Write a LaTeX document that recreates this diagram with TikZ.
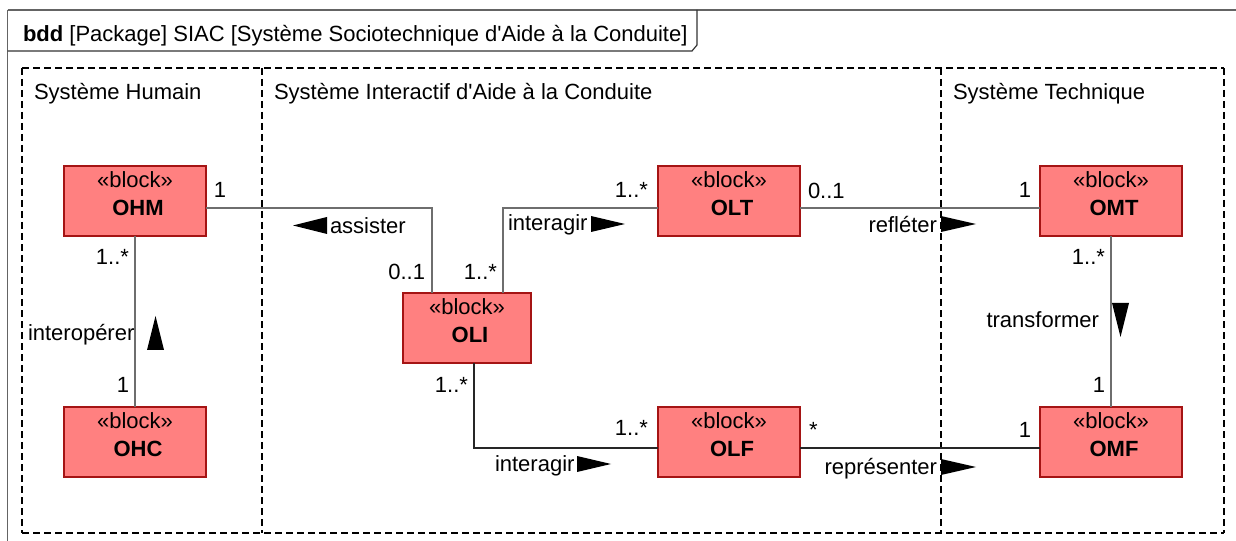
\documentclass[tikz,border=0pt]{standalone}
\usepackage{fontspec}
\setmainfont{Liberation Sans}[Ligatures=TeXOff]
\definecolor{blkfill}{RGB}{255,128,128}
\definecolor{blkborder}{RGB}{165,20,20}
\definecolor{conngray}{RGB}{110,110,110}
\definecolor{framegray}{RGB}{100,100,100}
\newcommand\myblock[5]{%
  \node[blk, minimum width=#4bp] (#1) at (#2,#3) {};
  \node[lbl] (#1-st) at ([yshift=-14bp]#1.north) {«block»};
  \node[lbl, font=\fontsize{22bp}{26bp}\selectfont\bfseries] (#1-nm) at ([xshift=3bp,yshift=-42bp]#1.north) {#5};
}
\begin{document}
\begin{tikzpicture}[x=1bp,y=-1bp,
  every node/.style={font=\fontsize{22bp}{26bp}\selectfont, inner sep=0pt, outer sep=0pt},
  lbl/.style={text height=15.8bp, text depth=0pt},
  blk/.style={draw=blkborder, fill=blkfill, line width=1.2bp, minimum height=70bp},
  conn/.style={draw=conngray, line width=1.3bp},
  pkg/.style={draw=black, line width=1.2bp, dash pattern=on 7bp off 4bp},
  tri/.style={fill=black, draw=none},
]
\useasboundingbox (0,0) rectangle (1236,541);
% outer frame
\draw[framegray, line width=1.3bp] (7.5,10) -- (1236,10);
\draw[framegray, line width=1.3bp] (7.5,10) -- (7.5,541);
\draw[black!80, line width=1.2bp] (7.5,51) -- (692,51) -- (697,45) -- (697,10);
\node[lbl, anchor=west] (title) at (23,34) {\textbf{bdd} [Package] SIAC [Système Sociotechnique d'Aide à la Conduite]};
% packages
\draw[pkg] (22,68) -- (1224,68);
\draw[pkg] (22,533) -- (1224,533);
\draw[pkg] (22,68) -- (22,533);
\draw[pkg] (262,68) -- (262,533);
\draw[pkg] (941,68) -- (941,533);
\draw[pkg] (1224,68) -- (1224,533);
\node[lbl, anchor=west] (pH) at (34,92) {Système Humain};
\node[lbl, anchor=west] (pI) at (274,92) {Système Interactif d'Aide à la Conduite};
\node[lbl, anchor=west] (pT) at (953,92) {Système Technique};
% blocks
\myblock{OHM}{135}{201}{142}{OHM}
\myblock{OHC}{135}{442}{142}{OHC}
\myblock{OLI}{467}{328}{128}{OLI}
\myblock{OLT}{729}{201}{142}{OLT}
\myblock{OLF}{729}{442}{142}{OLF}
\myblock{OMT}{1111}{201}{142}{OMT}
\myblock{OMF}{1111}{442}{142}{OMF}
% connectors
\draw[conn] (OHM.south) -- (OHC.north);
\draw[conn] ([yshift=-7bp]OHM.east) -| ([xshift=-35bp]OLI.north);
\draw[conn] ([xshift=36bp]OLI.north) |- ([yshift=-7bp]OLT.west);
\draw[conn, draw=black!85] ([xshift=7bp]OLI.south) |- ([yshift=-6bp]OLF.west);
\draw[conn] ([yshift=-7bp]OLT.east) -- ([yshift=-7bp]OMT.west);
\draw[conn, draw=black!85] ([yshift=-6bp]OLF.east) -- ([yshift=-6bp]OMF.west);
\draw[conn] (OMT.south) -- (OMF.north);
% direction triangles
\fill[tri] (293,225.5) -- (327,217) -- (327,234) -- cycle;
\fill[tri] (155.5,316) -- (147,350) -- (164,350) -- cycle;
\fill[tri] (625,224) -- (591,216) -- (591,232) -- cycle;
\fill[tri] (611,464) -- (577,456) -- (577,472) -- cycle;
\fill[tri] (976,224) -- (941,216) -- (941,232) -- cycle;
\fill[tri] (976,467) -- (941,459) -- (941,475) -- cycle;
\fill[tri] (1120.5,337) -- (1112,303) -- (1129,303) -- cycle;
% association labels
\node[lbl, anchor=east] (m1) at (226,190) {1};
\node[lbl, anchor=east] (m2) at (129,257) {1..*};
\node[lbl, anchor=west] (a1) at (28,333) {interopérer};
\node[lbl, anchor=east] (m3) at (129,385) {1};
\node[lbl, anchor=west] (a2) at (330,226) {assister};
\node[lbl, anchor=east] (m4) at (425,272) {0..1};
\node[lbl, anchor=east] (m5) at (497,272) {1..*};
\node[lbl, anchor=west] (a3) at (508,223) {interagir};
\node[lbl, anchor=east] (m6) at (648,190) {1..*};
\node[lbl, anchor=west] (m7) at (808,191) {0..1};
\node[lbl, anchor=east] (a4) at (937,225) {refléter};
\node[lbl, anchor=east] (m8) at (1031,190) {1};
\node[lbl, anchor=east] (m9) at (1105,257) {1..*};
\node[lbl, anchor=east] (a5) at (1099,320) {transformer};
\node[lbl, anchor=east] (m10) at (1105,385) {1};
\node[lbl, anchor=east] (m11) at (1031,430) {1};
\node[lbl, anchor=east] (m12) at (468,385) {1..*};
\node[lbl, anchor=east] (m13) at (648,428) {1..*};
\node[lbl, anchor=west] (a6) at (495,464) {interagir};
\node[lbl, anchor=west] (m14) at (809,430) {*};
\node[lbl, anchor=east] (a7) at (937,467) {représenter};
\end{tikzpicture}
\end{document}
